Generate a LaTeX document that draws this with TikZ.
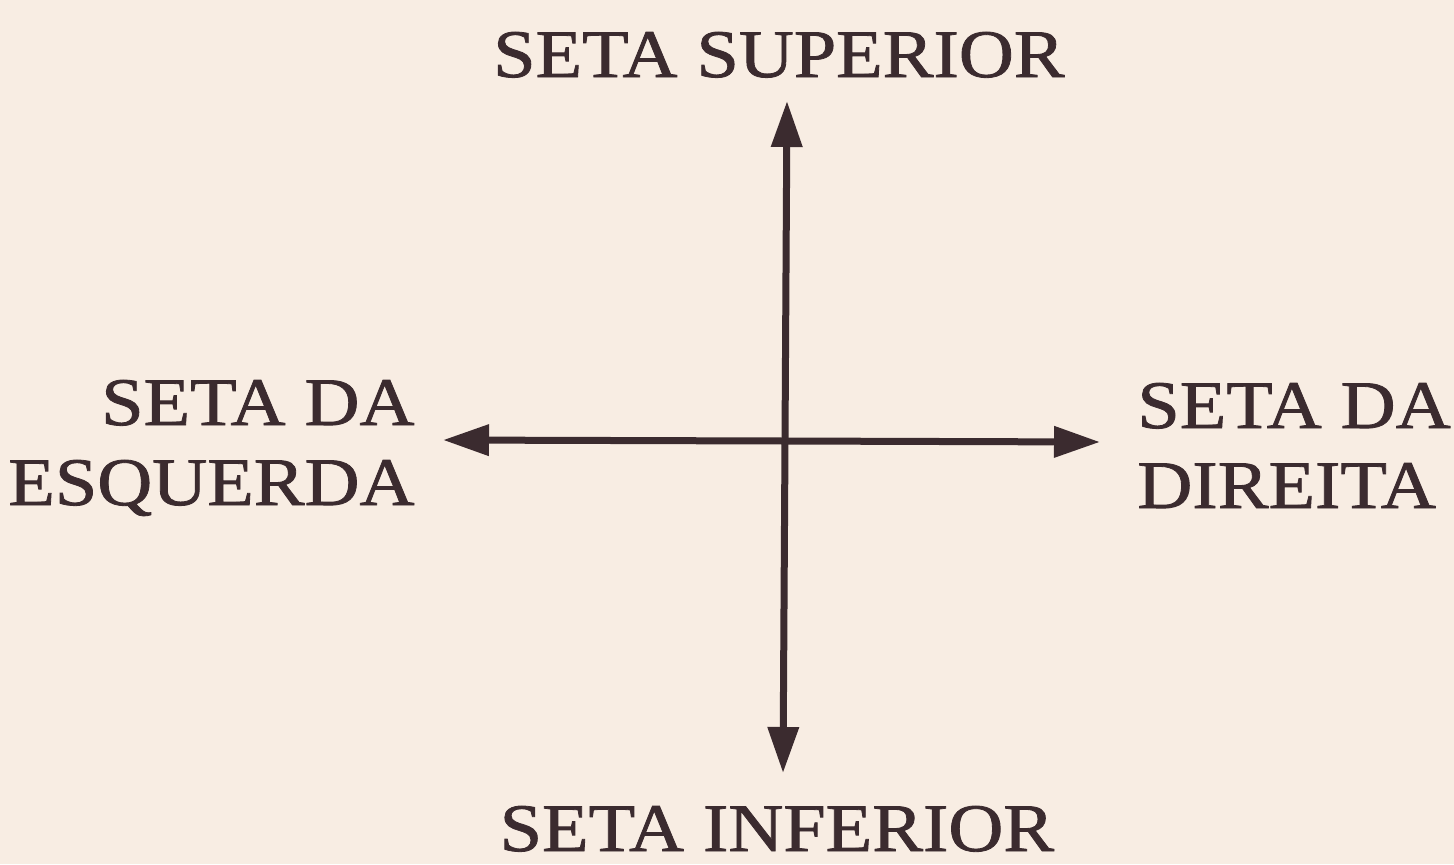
\documentclass[tikz,border=0pt]{standalone}
\usepackage{fontspec}
\setmainfont{Liberation Serif}[FakeStretch=1.12,FakeBold=1.2]
\usetikzlibrary{arrows.meta}
\definecolor{paper}{HTML}{F8EDE3}
\definecolor{ink}{HTML}{3B2B2F}
\tikzset{
  label/.style={inner sep=0pt, text=ink, font=\fontsize{34bp}{40bp}\selectfont},
  axis/.style={draw=ink, line width=3.5bp,
    arrows={-Triangle[length=23bp 0 0, width=15bp 0 0]}}
}
\begin{document}
\begin{tikzpicture}[x=0.5bp,y=-0.5bp]
\fill[paper] (0,0) rectangle (1454,864);
\useasboundingbox (0,0) rectangle (1454,864);
\coordinate (c) at (785,441);
\coordinate (up) at (787,101);
\coordinate (down) at (783,773);
\coordinate (left) at (443,440);
\coordinate (right) at (1100,442);
\draw[axis] (c) -- (up);
\draw[axis] (c) -- (down);
\draw[axis] (c) -- (left);
\draw[axis] (c) -- (right);
\node[label, anchor=base] (sup) at (779,77) {SETA SUPERIOR};
\node[label, anchor=base] (inf) at (777,851) {SETA INFERIOR};
\node[label, anchor=base east, align=right] (esq) at (415,505) {SETA DA\\ESQUERDA};
\node[label, anchor=base west, align=left] (dir) at (1137,508) {SETA DA\\DIREITA};
\end{tikzpicture}
\end{document}
